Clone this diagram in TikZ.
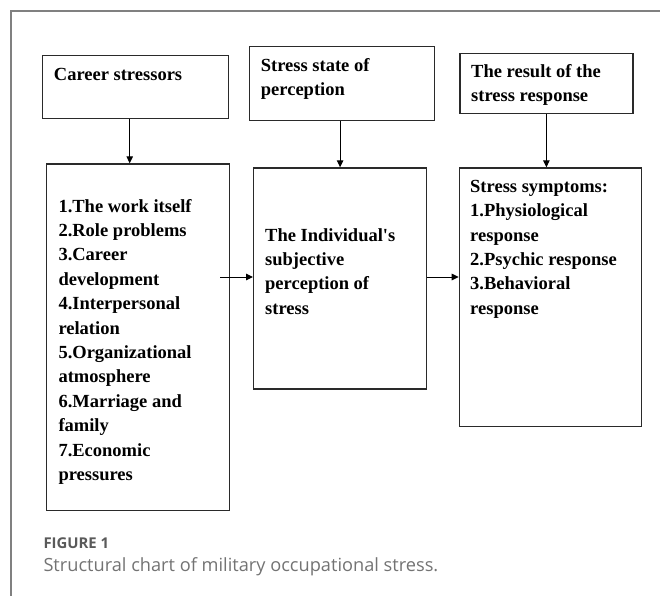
\documentclass[tikz,border=0pt]{standalone}
\usepackage{fontspec}
\setmainfont{Liberation Serif}[Ligatures=TeXOff]
\newfontfamily\capfont{Open Sans}
\usetikzlibrary{arrows.meta}
\definecolor{framegray}{HTML}{808080}
\definecolor{capgray}{HTML}{5A5A5A}
\definecolor{boxline}{HTML}{2A2A2A}
\tikzset{
  box/.style={draw=boxline, line width=1.2pt, rectangle, inner sep=0pt, anchor=north west},
  txt/.style={anchor=base west, inner sep=0pt},
  arr/.style={draw=black, line width=1pt, -{Triangle[length=7pt,width=6.5pt]}},
}
\newcommand{\bt}[1]{\parbox[t]{200pt}{\fontsize{18.5}{24.4}\selectfont\bfseries\raggedright #1}}
\begin{document}
\begin{tikzpicture}[x=1pt,y=-1pt]
\useasboundingbox (0,0) rectangle (660,596);
% frame
\draw[framegray, line width=1.3pt] (660,11) -- (11,11) -- (11,596);
% boxes
\node[box, minimum width=186pt, minimum height=63pt] (A) at (42,55) {};
\node[box, minimum width=185pt, minimum height=74pt] (B) at (249,46) {};
\node[box, minimum width=173pt, minimum height=60pt] (C) at (459.3,53) {};
\node[box, minimum width=182.7pt, minimum height=346.7pt] (D) at (46,163.3) {};
\node[box, minimum width=173pt, minimum height=221pt] (E) at (253,167.3) {};
\node[box, minimum width=182pt, minimum height=258.7pt] (F) at (458.7,167.3) {};
% texts
\node[txt] (tA) at (53.7,81) {\bt{Career stressors}};
\node[txt] (tB) at (260.7,71.5) {\bt{Stress state of\\perception}};
\node[txt] (tC) at (471,77.3) {\bt{The result of the\\stress response}};
\node[txt] (tD) at (58.3,212) {\bt{1.The work itself\\2.Role problems\\3.Career\\development\\4.Interpersonal\\relation\\5.Organizational\\atmosphere\\6.Marriage and\\family\\7.Economic\\pressures}};
\node[txt] (tE) at (265,241) {\bt{The Individual's\\subjective\\perception of\\stress}};
\node[txt] (tF) at (470,192.3) {\bt{Stress symptoms:\\1.Physiological\\response\\2.Psychic response\\3.Behavioral\\response}};
% connectors
\coordinate (xa) at (129.7,0);
\coordinate (ds) at (220,277);
\draw[arr] (A.south -| xa) -- (D.north -| xa);
\draw[arr] (B.south -| E.north) -- (E.north);
\draw[arr] (C.south) -- (C.south |- F.north);
\draw[arr] (ds) -- (ds -| E.west);
\draw[arr] (ds -| E.east) -- (ds -| F.west);
% caption
\node[anchor=base west, inner sep=0pt, text=capgray] (cap1) at (43.3,548.3) {\capfont\fontsize{14.9}{16}\selectfont\bfseries FIGURE 1};
\node[anchor=base west, inner sep=0pt, text=capgray!85] (cap2) at (43.3,571.7) {\capfont\fontsize{18.2}{20}\selectfont Structural chart of military occupational stress.};
\end{tikzpicture}
\end{document}
